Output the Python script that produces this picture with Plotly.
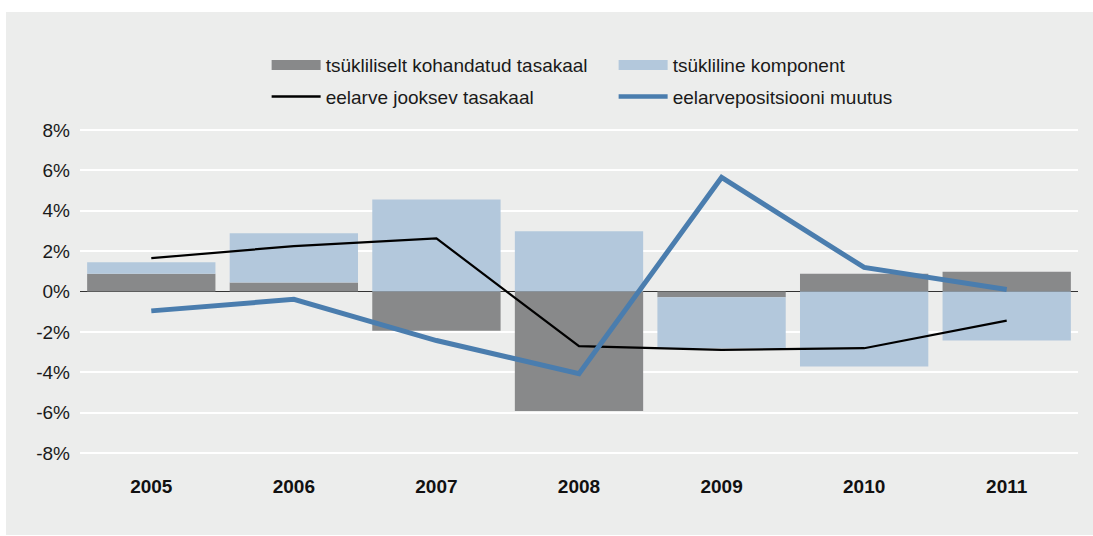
import plotly.graph_objects as go

years = ["2005", "2006", "2007", "2008", "2009", "2010", "2011"]
adjusted_balance = [0.88, 0.44, -1.94, -5.92, -0.29, 0.88, 0.98]
cyclical_component = [0.57, 2.45, 4.56, 2.99, -2.52, -3.71, -2.43]
budget_balance = [1.65, 2.25, 2.63, -2.71, -2.89, -2.81, -1.44]
position_change = [-0.96, -0.39, -2.43, -4.07, 5.65, 1.19, 0.10]
y_ticks = [-8, -6, -4, -2, 0, 2, 4, 6, 8]
y_tick_labels = ["-8%", "-6%", "-4%", "-2%", "0%", "2%", "4%", "6%", "8%"]

names = ["tsükliliselt kohandatud tasakaal", "tsükliline komponent",
         "eelarve jooksev tasakaal", "eelarvepositsiooni muutus"]

BG = "#ECEDEC"
DARK = "#88898A"
LIGHT = "#B3C8DC"
BLUE = "#4A7DAE"
FONT = "Liberation Sans, Arial, Helvetica, sans-serif"

fig = go.Figure()
fig.add_trace(go.Bar(x=years, y=adjusted_balance, marker=dict(color=DARK, line_width=0),
                     name=names[0], showlegend=False, legendgroup="a"))
fig.add_trace(go.Bar(x=years, y=cyclical_component, marker=dict(color=LIGHT, line_width=0),
                     name=names[1], showlegend=False, legendgroup="b"))
fig.add_trace(go.Scatter(x=years, y=budget_balance, mode="lines", name=names[2],
                         line=dict(color="#000000", width=2.2), showlegend=False, legendgroup="c"))
fig.add_trace(go.Scatter(x=years, y=position_change, mode="lines", name=names[3],
                         line=dict(color=BLUE, width=5), showlegend=False, legendgroup="d"))

# legend entries
fig.add_trace(go.Scatter(x=[None], y=[None], mode="lines", name=names[0], legendgroup="a",
                         line=dict(color=DARK, width=11.5), legend="legend"))
fig.add_trace(go.Scatter(x=[None], y=[None], mode="lines", name=names[1], legendgroup="b",
                         line=dict(color=LIGHT, width=11.5), legend="legend"))
fig.add_trace(go.Scatter(x=[None], y=[None], mode="lines", name=names[2], legendgroup="c",
                         line=dict(color="#000000", width=2.5), legend="legend2"))
fig.add_trace(go.Scatter(x=[None], y=[None], mode="lines", name=names[3], legendgroup="d",
                         line=dict(color=BLUE, width=4.5), legend="legend2"))

legend_common = dict(orientation="h", xanchor="left", yanchor="middle", x=0.187,
                     itemwidth=49, entrywidth=283, bgcolor="rgba(0,0,0,0)",
                     font=dict(family=FONT, size=19, color="#1a1a1a"),
                     traceorder="normal", itemclick=False, itemdoubleclick=False)

W, H = 1093, 536
PLOT_L, PLOT_T, PLOT_W, PLOT_H = 80, 126, 998, 331

fig.update_layout(
    width=W, height=H,
    margin=dict(l=PLOT_L, r=W - PLOT_L - PLOT_W, t=PLOT_T, b=H - PLOT_T - PLOT_H,
                autoexpand=False),
    paper_bgcolor="white", plot_bgcolor=BG,
    barmode="relative", bargap=0.1,
    font=dict(family=FONT, size=19, color="#1a1a1a"),
    legend=dict(legend_common, y=1.184),
    legend2=dict(legend_common, y=1.0885),
    shapes=[dict(type="rect", xref="paper", yref="paper",
                 x0=(6 - PLOT_L) / PLOT_W, x1=(W + 2 - PLOT_L) / PLOT_W,
                 y0=(PLOT_T + PLOT_H - 535) / PLOT_H, y1=(PLOT_T + PLOT_H - 12) / PLOT_H,
                 fillcolor=BG, line_width=0, layer="below")],
    xaxis=dict(showgrid=False, showline=False, ticks="",
               tickfont=dict(family=FONT, size=19, color="#111111", weight="bold"),
               ticklabelstandoff=16),
    yaxis=dict(range=[-8.2, 8.2], tickvals=y_ticks, ticktext=y_tick_labels,
               showgrid=True, gridcolor="white", gridwidth=2,
               zeroline=True, zerolinecolor="#333333", zerolinewidth=1.2,
               showline=False, ticks="", ticklabelstandoff=9,
               tickfont=dict(family=FONT, size=19, color="#1a1a1a")),
)

fig.write_html(
    "out.html",
    config={"displayModeBar": False},
    post_script="document.body.style.margin='0';document.body.style.overflow='hidden';",
)
